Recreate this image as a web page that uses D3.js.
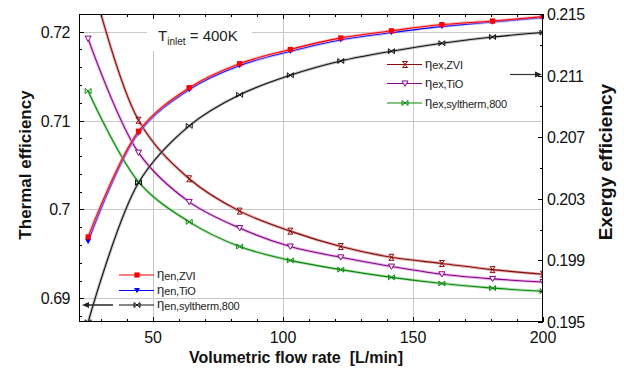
<!DOCTYPE html>
<html>
<head>
<meta charset="utf-8">
<script src="https://cdn.jsdelivr.net/npm/d3@7"></script>
<style>
  body { margin: 0; background: #fff; }
  svg { font-family: "Liberation Sans", Arial, sans-serif; }
  .t { white-space: pre; }
</style>
</head>
<body>
<svg id="svg" width="624" height="372"></svg>
<script>
// flow rate points (L/min)
const flow = [25, 44.4, 63.9, 83.3, 102.8, 122.2, 141.7, 161.1, 180.6, 200];

// thermal efficiency (left axis)
const enZVI = [0.6969, 0.7088, 0.7137, 0.7164, 0.7180, 0.7193, 0.7201, 0.7208, 0.7212, 0.7217];
const enTiO = [0.6964, 0.7086, 0.7135, 0.7162, 0.7178, 0.7191, 0.7199, 0.7206, 0.7211, 0.7216];
const enSyl = [0.6873, 0.7030, 0.7094, 0.7129, 0.7151, 0.7167, 0.7178, 0.7187, 0.7194, 0.7199];

// exergy efficiency (right axis)
const exZVI = [0.2181, 0.2081, 0.2043, 0.2022, 0.2009, 0.1999, 0.1992, 0.1988, 0.1984, 0.1981];
const exTiO = [0.2134, 0.2060, 0.2028, 0.2011, 0.1999, 0.1992, 0.1986, 0.1981, 0.1978, 0.1976];
const exSyl = [0.2100, 0.2041, 0.2015, 0.1999, 0.1990, 0.1984, 0.1979, 0.1975, 0.1972, 0.1970];

const xTicks = [50, 100, 150, 200];
const yLeftTicks = [0.69, 0.70, 0.71, 0.72];
const yRightTicks = [0.195, 0.199, 0.203, 0.207, 0.211, 0.215];

const svg = d3.select("#svg");
const margin = {top: 14, right: 81, bottom: 50, left: 79};
const W = 624, H = 372;

const x = d3.scaleLinear().domain([21.5, 200]).range([margin.left, W - margin.right]);
const yL = d3.scaleLinear().domain([0.68733, 0.72199]).range([H - margin.bottom, margin.top]);
const yR = d3.scaleLinear().domain([0.195, 0.215]).range([H - margin.bottom, margin.top]);

const x0 = margin.left, x1 = W - margin.right, y0 = margin.top, y1 = H - margin.bottom;

// grid
const grid = svg.append("g").attr("stroke", "#c8c8c8").attr("stroke-width", 1);
[50, 100, 150].forEach(v => grid.append("line")
  .attr("x1", Math.round(x(v)) + 0.5).attr("x2", Math.round(x(v)) + 0.5).attr("y1", y0).attr("y2", y1));
yLeftTicks.forEach(v => grid.append("line")
  .attr("y1", Math.round(yL(v)) + 0.5).attr("y2", Math.round(yL(v)) + 0.5).attr("x1", x0).attr("x2", x1));

svg.append("defs").append("clipPath").attr("id", "clip")
  .append("rect").attr("x", x0).attr("y", y0).attr("width", x1 - x0).attr("height", y1 - y0);

// title box
svg.append("rect").attr("x", 147).attr("y", y0 + 1).attr("width", 105).attr("height", 36).attr("fill", "#fff");
const title = svg.append("text").attr("x", 158).attr("y", 41).attr("font-size", 15).attr("fill", "#222");
title.append("tspan").text("T");
title.append("tspan").attr("font-size", 10).attr("dy", 4).text("inlet");
title.append("tspan").attr("dy", -4).text(" = 400K");

// markers
function marker(g, type, cx, cy, color) {
  const s = 2.6;
  if (type === "square") {
    g.append("rect").attr("x", cx - s).attr("y", cy - s).attr("width", 2 * s).attr("height", 2 * s).attr("fill", color);
  } else if (type === "tri") {
    g.append("path").attr("d", `M${cx - 3},${cy - 2.5}L${cx + 3},${cy - 2.5}L${cx},${cy + 2.8}Z`).attr("fill", color);
  } else if (type === "otri") {
    g.append("path").attr("d", `M${cx - 3},${cy - 2.5}L${cx + 3},${cy - 2.5}L${cx},${cy + 2.8}Z`)
      .attr("fill", "#fff").attr("stroke", color).attr("stroke-width", 1);
  } else if (type === "hbow") {
    g.append("path").attr("d", `M${cx - 3},${cy - 2.5}L${cx + 3},${cy + 2.5}L${cx + 3},${cy - 2.5}L${cx - 3},${cy + 2.5}Z`)
      .attr("fill", "none").attr("stroke", color).attr("stroke-width", 1);
  } else if (type === "vbow") {
    g.append("path").attr("d", `M${cx - 2.5},${cy - 3}L${cx + 2.5},${cy - 3}L${cx - 2.5},${cy + 3}L${cx + 2.5},${cy + 3}Z`)
      .attr("fill", "none").attr("stroke", color).attr("stroke-width", 1);
  }
}

const series = [
  {vals: exZVI, y: yR, color: "#8b0a0a", halo: "#c88080", mk: "vbow"},
  {vals: exTiO, y: yR, color: "#8a008a", halo: "#d28cd2", mk: "otri"},
  {vals: exSyl, y: yR, color: "#0a8a0a", halo: "#8ccc8c", mk: "hbow"},
  {vals: enSyl, y: yL, color: "#111", halo: "#9a9a9a", mk: "hbow"},
  {vals: enTiO, y: yL, color: "#0000ff", halo: "#9090ff", mk: "tri"},
  {vals: enZVI, y: yL, color: "#ff0000", halo: "#ff9a9a", mk: "square"}
];

const plot = svg.append("g").attr("clip-path", "url(#clip)");
series.forEach(s => {
  const line = d3.line().x((d, i) => x(flow[i])).y(d => s.y(d)).curve(d3.curveCatmullRom);
  plot.append("path").attr("d", line(s.vals)).attr("fill", "none")
    .attr("stroke", s.halo).attr("stroke-width", 3).attr("stroke-opacity", 0.6);
  plot.append("path").attr("d", line(s.vals)).attr("fill", "none")
    .attr("stroke", s.color).attr("stroke-width", 1.1);
  s.vals.forEach((v, i) => marker(plot, s.mk, x(flow[i]), s.y(v), s.color));
});

// frame
svg.append("rect").attr("x", x0 + 0.5).attr("y", y0 + 0.5).attr("width", x1 - x0 - 1).attr("height", y1 - y0 - 1)
  .attr("fill", "none").attr("stroke", "#000");

// axes with inward ticks
const tickG = svg.append("g").attr("stroke", "#000").attr("stroke-width", 1);
d3.range(30, 201, 10).forEach(v => {
  const px = Math.round(x(v)) + 0.5;
  const len = (v % 50 === 0) ? 5 : 3;
  tickG.append("line").attr("x1", px).attr("x2", px).attr("y1", y1).attr("y2", y1 - len);
  tickG.append("line").attr("x1", px).attr("x2", px).attr("y1", y0).attr("y2", y0 + len);
});
d3.range(0.688, 0.7221, 0.002).forEach(v => {
  const py = Math.round(yL(v)) + 0.5;
  const len = (Math.abs(v * 100 - Math.round(v * 100)) < 1e-6) ? 5 : 3;
  tickG.append("line").attr("x1", x0).attr("x2", x0 + len).attr("y1", py).attr("y2", py);
});
d3.range(0.195, 0.2151, 0.002).forEach(v => {
  const py = Math.round(yR(v)) + 0.5;
  const major = yRightTicks.some(t => Math.abs(t - v) < 1e-6);
  tickG.append("line").attr("x1", x1).attr("x2", x1 - (major ? 5 : 3)).attr("y1", py).attr("y2", py);
});

const lab = svg.append("g").attr("font-size", 16).attr("fill", "#111");
xTicks.forEach(v => lab.append("text").attr("x", x(v)).attr("y", 343).attr("text-anchor", "middle").text(v));
yLeftTicks.forEach(v => lab.append("text").attr("x", 70).attr("y", yL(v) + 6).attr("text-anchor", "end")
  .attr("letter-spacing", -0.5).text(d3.format("")(+v.toFixed(2))));
yRightTicks.forEach(v => lab.append("text").attr("x", 547).attr("y", yR(v) + 6)
  .attr("letter-spacing", -0.5).text(v.toFixed(3)));

// axis titles
svg.append("text").attr("class", "t").attr("x", 296).attr("y", 363).attr("text-anchor", "middle")
  .attr("font-size", 16).attr("font-weight", "bold").attr("fill", "#111").text("Volumetric flow rate  [L/min]");
svg.append("text").attr("transform", "translate(31,165) rotate(-90)").attr("text-anchor", "middle")
  .attr("font-size", 17).attr("font-weight", "bold").attr("fill", "#111").text("Thermal efficiency");
svg.append("text").attr("transform", "translate(612,162) rotate(-90)").attr("text-anchor", "middle")
  .attr("font-size", 19).attr("font-weight", "bold").attr("fill", "#111").text("Exergy efficiency");

// legends
function legendRow(lx, ly, s, sub) {
  const g = svg.append("g");
  g.append("line").attr("x1", lx).attr("x2", lx + 35).attr("y1", ly).attr("y2", ly)
    .attr("stroke", s.color).attr("stroke-width", 1.2);
  marker(g, s.mk, lx + 18, ly, s.color);
  const t = g.append("text").attr("x", lx + 38).attr("y", ly + 3).attr("font-size", 13).attr("fill", "#222");
  t.append("tspan").text("η");
  t.append("tspan").attr("font-size", 11).attr("dy", 1.5).attr("letter-spacing", -0.2).text(sub);
}
legendRow(119, 275, series[5], "en,ZVI");
legendRow(119, 290.5, series[4], "en,TiO");
legendRow(119, 305, series[3], "en,syltherm,800");
legendRow(387, 64.5, series[0], "ex,ZVI");
legendRow(387, 83.5, series[1], "ex,TiO");
legendRow(387, 103, series[2], "ex,syltherm,800");

// arrows
svg.append("line").attr("x1", 113).attr("x2", 87).attr("y1", 305).attr("y2", 305)
  .attr("stroke", "#333").attr("stroke-width", 1.6);
svg.append("path").attr("d", "M82,305L89,302L89,308Z").attr("fill", "#222");
svg.append("line").attr("x1", 510).attr("x2", 535).attr("y1", 74.5).attr("y2", 74.5)
  .attr("stroke", "#333").attr("stroke-width", 1.2);
svg.append("path").attr("d", "M542,74.5L535,71.5L535,77.5Z").attr("fill", "#222");
</script>
</body>
</html>
